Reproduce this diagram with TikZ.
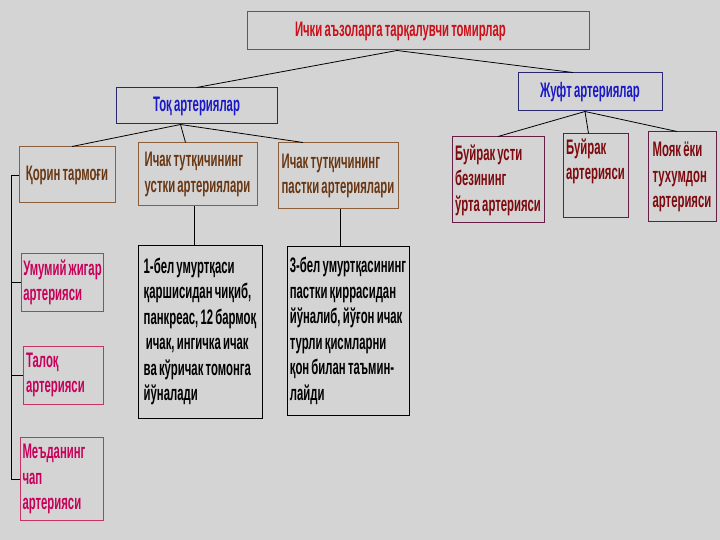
\documentclass[tikz,border=0pt]{standalone}
\usepackage{fontspec}
\setmainfont{Liberation Sans}[FakeStretch=0.54, WordSpace=0.7]
\usepackage{tikz}

\definecolor{bggray}{RGB}{212,212,212}
\definecolor{titlered}{RGB}{204,40,55}
\definecolor{titletext}{RGB}{205,15,25}
\definecolor{navyline}{RGB}{40,40,110}
\definecolor{bluetext}{RGB}{25,25,200}
\definecolor{brownline}{RGB}{140,95,60}
\definecolor{browntext}{RGB}{105,55,20}
\definecolor{plumline}{RGB}{100,30,70}
\definecolor{plumtext}{RGB}{125,10,15}
\definecolor{pinkline}{RGB}{200,50,100}
\definecolor{pinktext}{RGB}{200,0,90}

\tikzset{
  box/.style={draw, rectangle, line width=1pt, inner xsep=2pt, inner ysep=0pt,
    font=\fontsize{21}{25.5}\selectfont\bfseries},
  headbox/.style={box, draw=titlered, text=titletext},
  groupbox/.style={box, draw=navyline, text=bluetext, align=center},
  branchbox/.style={box, draw=brownline, text=browntext, align=left},
  pairbox/.style={box, draw=plumline, text=plumtext, align=left},
  subbox/.style={box, draw=pinkline, text=pinktext, align=left},
  notebox/.style={box, draw=black, text=black, align=left},
  link/.style={draw=black, line width=0.8pt}
}

\begin{document}
\begin{tikzpicture}[x=1pt, y=-1pt]
  \fill[bggray] (0,0) rectangle (720,540);
  \useasboundingbox (0,0) rectangle (720,540);

  % top level
  \node[headbox, minimum width=342pt, minimum height=38pt] (title) at (418,31) {\makebox[336pt][l]{\hspace*{45pt}Ички аъзоларга тарқалувчи томирлар}};
  \node[groupbox, minimum width=161pt, minimum height=36pt] (tok) at (196.5,106) {Тоқ артериялар};
  \node[groupbox, minimum width=144pt, minimum height=38pt] (juft) at (590,92) {Жуфт артериялар};

  % unpaired branches
  \node[branchbox, minimum width=96pt, minimum height=56pt] (qorin) at (67,175) {Қорин тармоғи};
  \node[branchbox, minimum width=119pt, minimum height=63pt] (ustki) at (197.5,174.5) {Ичак тутқичининг\\устки артериялари};
  \node[branchbox, minimum width=120pt, minimum height=66pt] (pastki) at (338,176) {Ичак тутқичининг\\пастки артериялари};

  % paired branches
  \node[pairbox, minimum width=92pt, minimum height=86pt] (buyrakusti) at (498,180) {Буйрак усти\\безининг\\ўрта артерияси};
  \node[pairbox, minimum width=65pt, minimum height=84pt] (buyrak) at (595.5,176) {Буйрак\\артерияси\\\strut};
  \node[pairbox, minimum width=68pt, minimum height=90pt] (moyak) at (682,177) {Мояк ёки\\тухумдон\\артерияси};

  % celiac trunk branches
  \node[subbox, minimum width=81pt, minimum height=58pt] (umumiy) at (62.5,282.5) {Умумий жигар\\артерияси};
  \node[subbox, minimum width=80pt, minimum height=58pt, text width=74pt] (taloq) at (63,375) {Талоқ\\артерияси};
  \node[subbox, minimum width=83pt, minimum height=83pt, text width=78pt] (medaning) at (61.5,479) {Меъданинг\\чап\\артерияси};

  % notes
  \node[notebox, minimum width=124pt, minimum height=173pt] (noteustki) at (200,331.5) {1-бел умуртқаси\\қаршисидан чиқиб,\\панкреас, 12 бармоқ\\\ ичак, ингичка ичак\\ва кўричак томонга\\йўналади};
  \node[notebox, minimum width=122pt, minimum height=169pt] (notepastki) at (348,331) {3-бел умуртқасининг\\пастки қиррасидан\\йўналиб, йўғон ичак\\турли қисмларни\\қон билан таъмин-\\лайди};

  % connectors
  \coordinate (titleapex) at ([xshift=-21pt]title.south);
  \draw[link] (titleapex) -- (tok.north);
  \draw[link] (titleapex) -- ([xshift=-17pt]juft.north);

  \coordinate (tokapex) at ([xshift=-16pt]tok.south);
  \draw[link] (tokapex) -- ([xshift=5pt]qorin.north);
  \draw[link] (tokapex) -- ([xshift=-12pt]ustki.north);
  \draw[link] (tokapex) -- ([xshift=-35pt]pastki.north);

  \coordinate (juftapex) at ([xshift=-5pt]juft.south);
  \draw[link] (juftapex) -- (buyrakusti.north);
  \draw[link] (juftapex) -- ([xshift=-7pt]buyrak.north);
  \draw[link] (juftapex) -- ([xshift=-5pt]moyak.north);

  \draw[link] (qorin.west) -- ++(-7,0) |- (medaning.west);
  \draw[link] (umumiy.west) -- ++(-10,0);
  \draw[link] (taloq.west) -- ++(-11,0);

  \draw[link] ([xshift=-3.5pt]ustki.south) -- ([xshift=-3.5pt]ustki.south |- noteustki.north);
  \draw[link] ([xshift=2pt]pastki.south) -- ([xshift=2pt]pastki.south |- notepastki.north);
\end{tikzpicture}
\end{document}
